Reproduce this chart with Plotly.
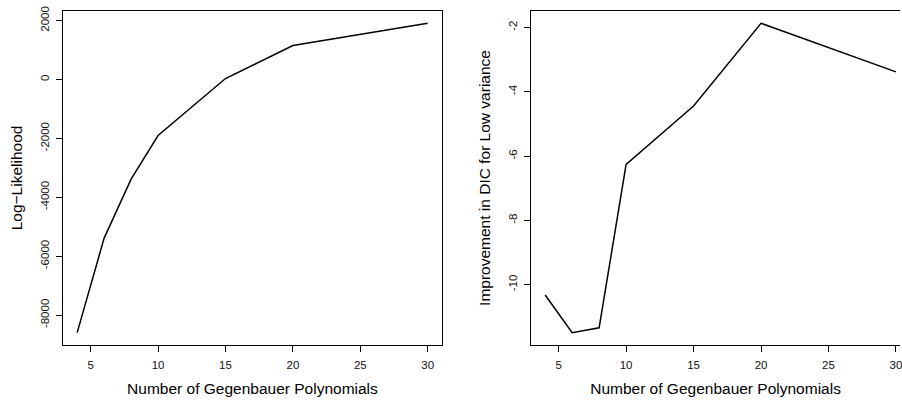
import plotly.graph_objects as go

# Data
n_poly = [4, 6, 8, 10, 15, 20, 30]
log_lik = [-8595, -5385, -3385, -1900, 34, 1153, 1910]
dic_improve = [-10.32, -11.49, -11.34, -6.26, -4.44, -1.87, -3.38]

x_ticks = [5, 10, 15, 20, 25, 30]
y1_ticks = [-8000, -6000, -4000, -2000, 0, 2000]
y2_ticks = [-10, -8, -6, -4, -2]

W, H = 902, 401
FONT = "Liberation Sans, Arial, Helvetica, sans-serif"
TICK_SIZE = 11.5
TITLE_SIZE = 15.5

fig = go.Figure()
fig.add_trace(go.Scatter(x=n_poly, y=log_lik, mode="lines",
                         line=dict(color="black", width=1.5),
                         xaxis="x", yaxis="y", showlegend=False))
fig.add_trace(go.Scatter(x=n_poly, y=dic_improve, mode="lines",
                         line=dict(color="black", width=1.5),
                         xaxis="x2", yaxis="y2", showlegend=False))

def xax(domain, rng, anchor):
    return dict(domain=domain, range=rng, tickvals=x_ticks, anchor=anchor,
                ticktext=[str(t) for t in x_ticks],
                ticks="outside", ticklen=6, tickwidth=1, tickcolor="black",
                showline=True, linecolor="black", linewidth=1, mirror=True,
                showgrid=False, zeroline=False,
                tickfont=dict(family=FONT, size=TICK_SIZE, color="#111"),
                title=dict(text="Number of Gegenbauer Polynomials",
                           font=dict(family=FONT, size=TITLE_SIZE, color="black"),
                           standoff=13),
                ticklabelstandoff=3, ticklabeloverflow="allow")

def yax(domain, rng, ticks, anchor, mirror, title):
    return dict(domain=domain, range=rng, tickvals=ticks,
                ticktext=[str(t) for t in ticks], tickangle=-90,
                ticks="outside", ticklen=6, tickwidth=1, tickcolor="black",
                showline=True, linecolor="black", linewidth=1, mirror=mirror,
                showgrid=False, zeroline=False, anchor=anchor,
                tickfont=dict(family=FONT, size=TICK_SIZE, color="#111"),
                title=dict(text=title, font=dict(family=FONT, size=TITLE_SIZE, color="black"),
                           standoff=12),
                ticklabelstandoff=3, ticklabeloverflow="allow")

ydom = [56.7 / H, 1 - 6 / H]
fig.update_layout(
    width=W, height=H,
    margin=dict(l=0, r=0, t=0, b=0),
    paper_bgcolor="white", plot_bgcolor="white",
    xaxis=xax([63.3 / W, 442.7 / W], [2.96, 31.04], "y"),
    yaxis=yax(ydom, [-9015, 2330], y1_ticks, "x", True, "Log\u2212Likelihood"),
    xaxis2=xax([532.3 / W, 1.0], [2.96, 30.30], "y2"),
    yaxis2=yax(ydom, [-11.875, -1.485], y2_ticks, "x2", False,
               "Improvement in DIC for Low variance"),
)

fig.write_html("out.html")
